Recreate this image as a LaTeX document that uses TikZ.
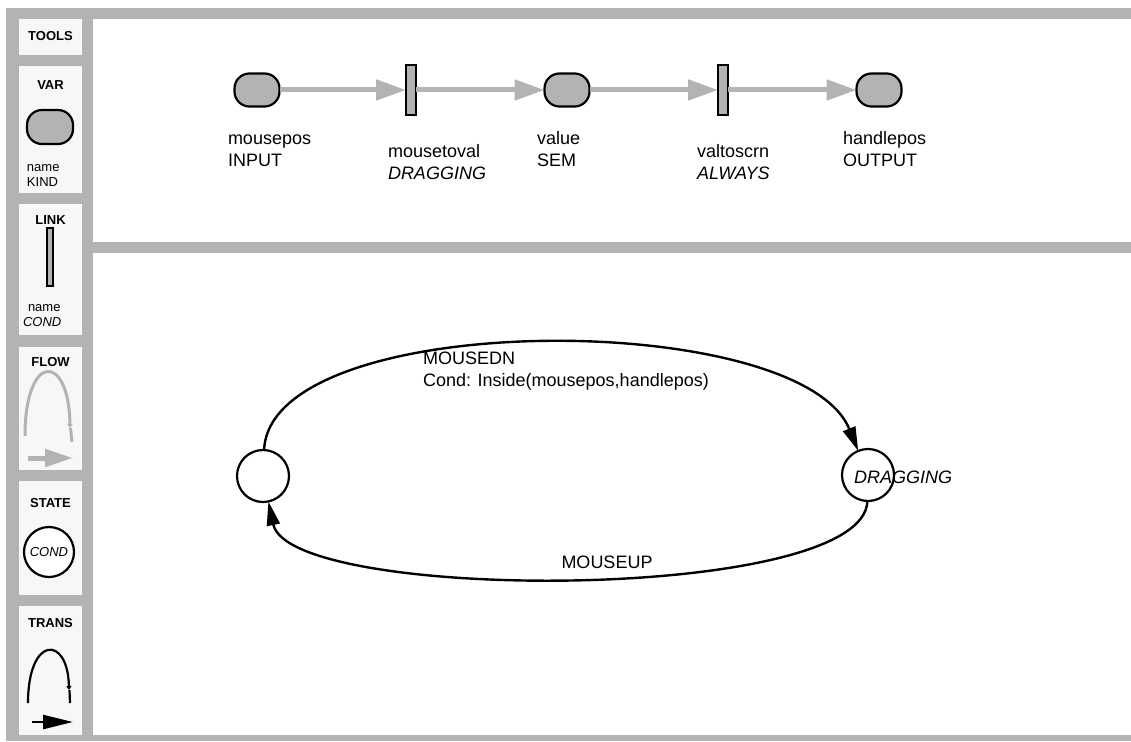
\documentclass[tikz,border=0pt]{standalone}
\usepackage{fontspec}
\setmainfont{Liberation Sans}
\usetikzlibrary{arrows.meta}
\definecolor{bar}{HTML}{B3B3B3}
\definecolor{panel}{HTML}{F7F7F7}
\definecolor{nodefill}{HTML}{B3B3B3}

\begin{document}
\begin{tikzpicture}[x=1pt,y=-1pt,
  every node/.style={inner sep=0pt, outer sep=0pt},
  varnode/.style={draw=black, line width=2.2pt, fill=nodefill, rounded corners=15pt,
    minimum width=45pt, minimum height=33pt},
  linknode/.style={draw=black, line width=2pt, fill=nodefill,
    minimum width=10pt, minimum height=50pt},
  flowarrow/.style={draw=bar, line width=5pt, -{Triangle[length=30pt,width=20pt]}},
  statenode/.style={circle, draw=black, line width=2.2pt, fill=white, minimum size=52pt},
  transarrow/.style={draw=black, line width=2.4pt, -{Triangle[length=24pt,width=13pt]}},
  lbl/.style={anchor=base west, font=\fontsize{18}{22}\selectfont},
  ilbl/.style={anchor=base west, font=\fontsize{18}{22}\selectfont\itshape},
  tool/.style={anchor=base, font=\fontsize{13}{15}\selectfont\bfseries},
  tooltxt/.style={anchor=base west, font=\fontsize{13}{15}\selectfont},
  itooltxt/.style={anchor=base west, font=\fontsize{13}{15}\selectfont\itshape},
]
\useasboundingbox (0,0) rectangle (1131,741);

% window frame
\fill[white] (0,0) rectangle (1131,741);
\fill[bar] (6,8) rectangle (93,741);
\fill[bar] (93,8) rectangle (1131,19);
\fill[bar] (93,242) rectangle (1131,253);
\fill[bar] (93,735) rectangle (1131,741);
\foreach \a/\b in {19/55, 66/193, 204/335, 347/470, 481/595, 606/735}
  \fill[panel] (19,\a) rectangle (82,\b);

% tool palette
\node[tool] (ttools) at (50.5,40.5) {TOOLS};

\node[tool] (tvar) at (50.5,89.5) {VAR};
\node[varnode, minimum width=46pt, minimum height=34pt] (legvar) at (50,127) {};
\node[tooltxt] (legvarname) at (27,171) {name};
\node[tooltxt] (legvarkind) at (27,186.5) {KIND};

\node[tool] (tlink) at (50.5,224.5) {LINK};
\node[linknode, minimum width=6pt, minimum height=58pt] (leglink) at (50,257) {};
\node[tooltxt] (leglinkname) at (28,311) {name};
\node[itooltxt] (leglinkcond) at (23,326.5) {COND};

\node[tool] (tflow) at (50.5,366.5) {FLOW};
\draw[bar, line width=3pt, -{Triangle[length=4pt,width=5pt]}]
  (25,436) .. controls (25,352) and (69,352) .. (70,428);
\draw[bar, line width=3pt] (70.5,428) -- (72,442);
\draw[bar, line width=5pt, -{Triangle[length=28pt,width=17pt]}] (28,458) -- (73,458);

\node[tool] (tstate) at (50.5,507.5) {STATE};
\node[statenode, minimum size=50pt, font=\fontsize{13}{15}\selectfont\itshape]
  (legstate) at (49,552) {COND};

\node[tool] (ttrans) at (50.5,627) {TRANS};
\draw[black, line width=2.2pt, -{Triangle[length=4pt,width=5pt]}]
  (28,703) .. controls (28,635) and (68,635) .. (69,690);
\draw[black, line width=2.2pt] (69.5,690) -- (70,703);
\draw[black, line width=2.5pt, -{Triangle[length=30pt,width=14pt]}] (32,722) -- (73,722);

% data flow
\node[varnode] (mousepos) at (257,90) {};
\node[linknode] (mousetoval) at (411,90) {};
\node[varnode] (value) at (567,90) {};
\node[linknode] (valtoscrn) at (723,90) {};
\node[varnode] (handlepos) at (879,90) {};

\draw[flowarrow] (mousepos) -- (mousetoval);
\draw[flowarrow] (mousetoval) -- (value);
\draw[flowarrow] (value) -- (valtoscrn);
\draw[flowarrow] (valtoscrn) -- (handlepos);

\node[lbl] (mouseposname) at (228,144) {mousepos};
\node[lbl] (mouseposkind) at (228,166) {INPUT};
\node[lbl] (mousetovalname) at (388,157) {mousetoval};
\node[ilbl] (mousetovalcond) at (388,179) {DRAGGING};
\node[lbl] (valuename) at (537,144) {value};
\node[lbl] (valuekind) at (537,166) {SEM};
\node[lbl] (valtoscrnname) at (697,157) {valtoscrn};
\node[ilbl] (valtoscrncond) at (697,179) {ALWAYS};
\node[lbl] (handleposname) at (843,144) {handlepos};
\node[lbl] (handleposkind) at (843,166) {OUTPUT};

% state machine
\node[statenode] (idle) at (263,476) {};
\node[statenode] (dragging) at (868,475) {};
\node[ilbl] (draggingname) at (854,483) {DRAGGING};

\draw[transarrow] (idle) .. controls (270,308) and (800,308) .. (dragging);
\draw[transarrow] (dragging) .. controls (865,603) and (290,603) .. (idle);

\node[lbl] (mousedn) at (423,364) {MOUSEDN};
\node[lbl] (mousedncond) at (423,386) {Cond: Inside(mousepos,handlepos)};
\node[lbl, anchor=base] (mouseup) at (607,568) {MOUSEUP};

\end{tikzpicture}
\end{document}
